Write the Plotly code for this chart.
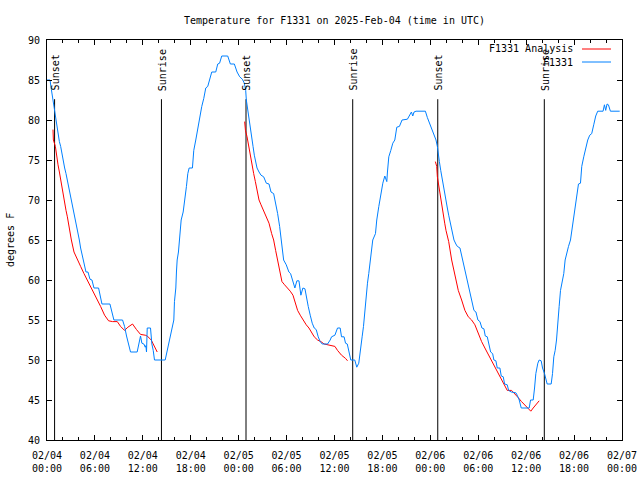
import pandas as pd
import plotly.graph_objects as go

START = pd.Timestamp("2025-02-04 00:00")

# ---- observed station temperatures (hours after 02/04 00:00 UTC, deg F)
obs_hours = [0.0, 0.38, 0.55, 0.71, 0.88, 1.05, 1.21, 1.38, 1.55, 1.71, 1.88, 2.05, 2.21, 2.38, 2.55, 2.71, 2.88, 3.05,
             3.21, 3.38, 3.55, 3.71, 3.88, 4.05, 4.21, 4.46, 4.71, 4.88, 5.13, 5.38, 5.63, 5.88, 6.46, 6.63, 6.88, 7.88,
             8.13, 8.38, 9.46, 9.71, 9.96, 10.21, 10.46, 11.29, 11.46, 11.71, 11.88, 12.13, 12.3, 12.38, 12.46, 12.55,
             12.96, 13.13, 13.3, 13.46, 14.8, 14.96, 15.21, 15.46, 15.71, 15.88, 15.96, 16.13, 16.21, 16.3, 16.46, 16.63,
             16.8, 17.05, 17.21, 17.46, 17.63, 17.8, 18.21, 18.38, 18.63, 18.88, 19.13, 19.38, 19.63, 19.88, 20.13, 20.38,
             20.63, 21.13, 21.38, 21.61, 21.88, 22.63, 22.96, 23.46, 23.8, 24.13, 24.46, 24.71, 24.88, 24.96, 25.13, 25.3,
             25.46, 25.63, 25.8, 25.96, 26.13, 26.3, 26.55, 26.8, 27.13, 27.46, 27.8, 28.05, 28.38, 28.63, 28.88, 29.13,
             29.3, 29.63, 29.96, 30.29, 30.5, 30.79, 31.04, 31.29, 31.55, 31.79, 32.04, 32.3, 32.46, 32.71, 32.96, 33.21,
             33.46, 33.71, 33.96, 34.21, 34.46, 35.13, 35.46, 35.63, 36.05, 36.38, 36.71, 36.88, 37.2, 37.38, 37.6, 37.79,
             38.04, 38.54, 38.79, 39.04, 39.21, 39.46, 39.63, 39.79, 39.96, 40.13, 40.29, 40.46, 40.63, 40.79, 41.13,
             41.29, 41.55, 41.8, 42.05, 42.3, 42.55, 42.63, 42.8, 43.05, 43.3, 43.55, 43.8, 44.13, 44.46, 45.13, 45.46,
             45.63, 45.8, 45.96, 46.21, 47.38, 47.63, 47.96, 48.21, 48.46, 48.71, 48.88, 48.96, 49.13, 49.3, 49.46, 49.63,
             49.8, 49.96, 50.13, 50.3, 50.46, 50.63, 50.8, 50.96, 51.2, 51.38, 51.71, 51.96, 52.21, 52.46, 52.71, 52.96,
             53.21, 53.46, 53.71, 53.96, 54.21, 54.46, 54.71, 54.88, 55.13, 55.29, 55.55, 55.8, 55.96, 56.21, 56.38,
             56.71, 56.88, 57.13, 57.3, 57.63, 57.8, 58.13, 58.71, 58.88, 59.13, 59.38, 60.38, 60.55, 60.88, 61.05, 61.21,
             61.46, 61.63, 61.88, 62.05, 62.3, 62.55, 62.63, 63.13, 63.3, 63.46, 63.63, 63.8, 63.96, 64.13, 64.3, 64.46,
             64.71, 64.88, 65.05, 65.3, 65.55, 65.8, 66.05, 66.3, 66.55, 66.8, 66.96, 67.21, 67.46, 67.71, 67.96, 68.21,
             68.46, 68.71, 68.96, 69.63, 69.8, 69.96, 70.13, 70.3, 70.55, 71.71]
obs_temp = [85, 85, 83.8, 82.7, 81.5, 80.6, 79.2, 78.3, 77.3, 76.7, 75.6, 74.6, 74.0, 73.3, 72.5, 71.7, 70.8, 70.0,
            69.2, 68.3, 67.5, 66.7, 65.8, 65.0, 64.0, 62.7, 61.9, 61.0, 61.0, 60.1, 60.0, 59.0, 59.0, 58.1, 57.0, 57.0,
            56.0, 55.0, 55.0, 54.2, 53.0, 52.1, 51.0, 51.0, 52.0, 53.0, 52.1, 52.0, 51.6, 51.8, 51.0, 54.0,
            54.0, 52.0, 51.2, 50.0, 50.0, 50.8, 52.1, 53.1, 54.2, 55.0, 57.3, 59.0, 61.0, 62.5, 63.5, 65.5,
            67.5, 68.5, 69.6, 71.7, 73.3, 74.0, 74.0, 76.2, 77.5, 79.0, 80.4, 81.7, 82.7, 84.0, 84.2, 85.2,
            86.0, 86.0, 87.0, 87.1, 88.0, 88.0, 87.0, 87.0, 86.0, 85.4, 85.1, 84.6, 83.7, 82.5, 81.2, 80.0,
            78.7, 77.7, 76.7, 75.6, 74.8, 74.0, 73.5, 73.1, 72.9, 72.1, 72.0, 71.0, 70.8, 69.6, 68.3, 66.7,
            65.0, 62.5, 61.9, 61.0, 60.8, 59.8, 59.0, 59.9, 59.9, 58.1, 59.0, 58.9, 57.9, 56.7, 55.6, 54.6,
            54.0, 53.8, 52.9, 52.3, 52.0, 52.0, 52.5, 52.9, 53.1, 54.0, 54.0, 52.9, 52.9, 52.1, 52.0, 51.0,
            50.0, 50.0, 49.1, 49.6, 51.2, 52.9, 54.2, 56.2, 58.3, 59.6, 60.8, 62.5, 63.7, 65.0, 65.8,
            67.5, 69.2, 70.8, 72.1, 73.0, 72.3, 73.5, 75.4, 76.2, 77.1, 77.5, 79.1, 79.2, 80.0, 80.1, 80.8,
            81.0, 80.5, 81.0, 81.1, 81.1, 80.3, 79.5, 78.7, 78.1, 77.5, 76.7, 75.8, 74.8, 73.7, 72.7, 71.7,
            70.8, 70.0, 69.0, 68.1, 67.3, 66.5, 65.6, 65.0, 64.5, 64.2, 64.0, 62.9, 61.7, 60.8, 59.8, 58.7,
            57.5, 56.2, 56.0, 55.0, 54.8, 54.0, 53.9, 53.0, 52.9, 52.1, 51.0, 50.8, 50.0, 49.9, 49.0,
            49.0, 48.0, 47.9, 47.0, 46.9, 46.2, 46.0, 45.9, 45.6, 45.0, 44.0, 44.0, 45.0, 45.0, 46.5, 48.3,
            49.6, 50.0, 49.9, 49.0, 48.3, 47.5, 47.0, 47.0, 48.3, 50.4, 51.2, 52.5, 55.0, 56.7, 58.7, 59.6,
            60.8, 62.5, 63.3, 64.2, 65.0, 66.7, 68.5, 70.4, 72.0, 72.1, 74.2, 75.4, 76.5, 77.5, 78.1, 78.3,
            79.4, 80.5, 81.1, 81.1, 81.9, 81.2, 82.0, 81.9, 81.1, 81.1]

# ---- analysis temperatures, one run per night
ana1_hours = [0.75, 0.8, 1.05, 1.21, 1.38, 1.55, 1.71, 1.88, 2.05, 2.21, 2.38, 2.55, 2.71, 2.88, 3.05, 3.38, 3.8,
              4.21, 4.63, 5.05, 5.46, 5.88, 6.3, 6.71, 7.21, 7.71, 8.21, 8.8, 9.21, 9.71, 10.13, 10.71, 11.21, 11.71,
              12.3, 12.55, 13.05, 13.46, 13.8]
ana1_temp = [78.8, 77.5, 76.7, 75.4, 74.4, 73.5, 72.5, 71.7, 70.8, 69.6, 68.7, 67.9, 66.9, 66.0, 65.0, 63.5, 62.5,
             61.7, 60.8, 60.0, 59.2, 58.3, 57.5, 56.7, 55.6, 54.9, 54.8, 54.8, 54.2, 53.7, 54.1, 54.5, 53.8, 53.2,
             53.1, 53.0, 52.5, 51.7, 51.0]
ana2_hours = [24.75, 24.85, 25.05, 25.25, 25.46, 25.67, 25.88, 26.09, 26.3, 26.55, 26.8, 27.13, 27.46, 27.8, 28.13,
              28.38, 28.63, 28.88, 29.13, 29.42, 29.75, 30.13, 30.46, 30.8, 31.13, 31.38, 31.71, 32.05, 32.46, 32.8,
              33.13, 33.46, 33.88, 34.3, 34.71, 35.21, 35.63, 36.05, 36.38, 36.88, 37.38, 37.63]
ana2_temp = [79.8, 78.7, 77.9, 76.7, 75.4, 74.4, 73.3, 72.3, 71.0, 70.0, 69.4, 68.7, 67.9, 67.1, 65.8,
             65.0, 63.7, 62.5, 61.2, 59.8, 59.4, 59.0, 58.6, 58.1, 57.1, 56.2, 55.6, 55.0, 54.4, 54.0,
             53.5, 52.9, 52.5, 52.3, 52.0, 51.9, 51.8, 51.7, 51.2, 50.6, 50.2, 49.9]
ana3_hours = [48.63, 48.8, 48.88, 49.0, 49.13, 49.3, 49.46, 49.63, 49.8, 49.96, 50.13, 50.3, 50.67, 51.08, 51.5,
              51.92, 52.33, 52.75, 53.17, 53.58, 54.0, 54.42, 54.83, 55.25, 55.67, 56.08, 56.5, 56.92, 57.33, 57.63,
              58.17, 58.58, 59.0, 59.42, 59.83, 60.25, 60.58, 60.88, 61.29, 61.63]
ana3_temp = [74.8, 74.2, 72.9, 72.1, 71.0, 70.0, 69.0, 67.9, 67.1, 66.2, 65.4, 64.8, 62.5, 60.4, 58.7,
             57.5, 56.2, 55.4, 55.0, 54.4, 53.3, 52.3, 51.5, 50.7, 50.0, 49.2, 48.5, 47.7, 46.9, 46.2,
             46.2, 45.8, 45.3, 44.8, 44.4, 44.0, 43.6, 44.0, 44.5, 44.9]

# ---- sun events (hours after 02/04 00:00 UTC)
sunset_hours = [0.95, 24.92, 48.93]
sunrise_hours = [14.33, 38.28, 62.27]

# ---- axis ticks
x_tick_hours = [0, 6, 12, 18, 24, 30, 36, 42, 48, 54, 60, 66, 72]
x_tick_labels = ["02/04<br>00:00", "02/04<br>06:00", "02/04<br>12:00", "02/04<br>18:00",
                 "02/05<br>00:00", "02/05<br>06:00", "02/05<br>12:00", "02/05<br>18:00",
                 "02/06<br>00:00", "02/06<br>06:00", "02/06<br>12:00", "02/06<br>18:00",
                 "02/07<br>00:00"]
y_ticks = [40, 45, 50, 55, 60, 65, 70, 75, 80, 85, 90]

FONT = "DejaVu Sans Mono"
RED = "#ff0000"
BLUE = "#0080ff"
SUN_TOP = 82.6
Y_MIN, Y_MAX = 40, 90


def to_time(hours):
    return [START + pd.Timedelta(hours=h) for h in hours]


# analysis runs joined with gaps
ana_x, ana_y = [], []
for hrs, tmp in [(ana1_hours, ana1_temp), (ana2_hours, ana2_temp), (ana3_hours, ana3_temp)]:
    ana_x += to_time(hrs) + [None]
    ana_y += list(tmp) + [None]

# sun event vertical lines
sun_x, sun_y = [], []
for h in sorted(sunset_hours + sunrise_hours):
    t = START + pd.Timedelta(hours=h)
    sun_x += [t, t, None]
    sun_y += [SUN_TOP, Y_MIN, None]

fig = go.Figure()
fig.add_trace(go.Scatter(x=sun_x, y=sun_y, mode="lines", line=dict(color="black", width=1),
                         showlegend=False, hoverinfo="skip"))
fig.add_trace(go.Scatter(x=ana_x, y=ana_y, mode="lines", name="F1331 Analysis",
                         line=dict(color=RED, width=1), connectgaps=False))
fig.add_trace(go.Scatter(x=to_time(obs_hours), y=obs_temp, mode="lines", name="F1331",
                         line=dict(color=BLUE, width=1)))

annotations = []
for label, hours in [("Sunset", sunset_hours), ("Sunrise", sunrise_hours)]:
    for h in hours:
        annotations.append(dict(x=START + pd.Timedelta(hours=h), y=83.4, xref="x", yref="y",
                                text=label, textangle=-90, showarrow=False,
                                xanchor="center", yanchor="bottom", xshift=1,
                                font=dict(family=FONT, size=10, color="black")))

# y-axis title
annotations.append(dict(x=0, y=0.5, xref="paper", yref="paper", xshift=-37, text="degrees F",
                        textangle=-90, showarrow=False, xanchor="center", yanchor="middle",
                        font=dict(family=FONT, size=10, color="black")))

# gnuplot-style key: text then line sample
PLOT_W, PLOT_H = 575, 400
key_rows = [("F1331 Analysis", RED, 49), ("F1331", BLUE, 62)]
shapes = []
for text, color, ypix in key_rows:
    yp = (440 - ypix) / PLOT_H
    annotations.append(dict(x=(575 - 47) / PLOT_W, y=yp, xref="paper", yref="paper", text=text,
                            showarrow=False, xanchor="right", yanchor="middle",
                            font=dict(family=FONT, size=10, color="black")))
    shapes.append(dict(type="line", xref="paper", yref="paper",
                       x0=(582 - 47) / PLOT_W, x1=(611 - 47) / PLOT_W, y0=yp, y1=yp,
                       line=dict(color=color, width=1)))

fig.update_layout(
    width=640, height=480, autosize=False,
    margin=dict(l=47, r=18, t=40, b=40, pad=0, autoexpand=False),
    paper_bgcolor="white", plot_bgcolor="white",
    showlegend=False,
    title=dict(text="Temperature for F1331 on 2025-Feb-04 (time in UTC)", x=0.5, xref="paper",
               xanchor="center", y=1 - 20 / 480, yref="container", yanchor="middle",
               font=dict(family=FONT, size=10, color="black")),
    font=dict(family=FONT, size=10, color="black"),
    annotations=annotations,
    shapes=shapes,
)

fig.update_xaxes(
    type="date", automargin=False,
    range=[START, START + pd.Timedelta(hours=72)],
    tickmode="array", tickvals=to_time(x_tick_hours), ticktext=x_tick_labels,
    ticks="inside", ticklen=5, tickcolor="black", tickwidth=1,
    showline=True, linecolor="black", linewidth=1, mirror="allticks",
    showgrid=False, zeroline=False, ticklabelstandoff=6,
    minor=dict(tick0=START, dtick=2 * 3600 * 1000, ticks="inside", ticklen=3,
               tickcolor="black", tickwidth=1, showgrid=False),
    tickfont=dict(family=FONT, size=10, color="black"),
)
fig.update_yaxes(
    automargin=False,
    range=[Y_MIN, Y_MAX], tickmode="array", tickvals=y_ticks,
    ticks="inside", ticklen=5, tickcolor="black", tickwidth=1,
    showline=True, linecolor="black", linewidth=1, mirror="allticks",
    showgrid=False, zeroline=False, ticklabelstandoff=4,
    tickfont=dict(family=FONT, size=10, color="black"),
)

fig.write_html("out.html", config={"displayModeBar": False},
               post_script="document.body.style.margin='0';")
